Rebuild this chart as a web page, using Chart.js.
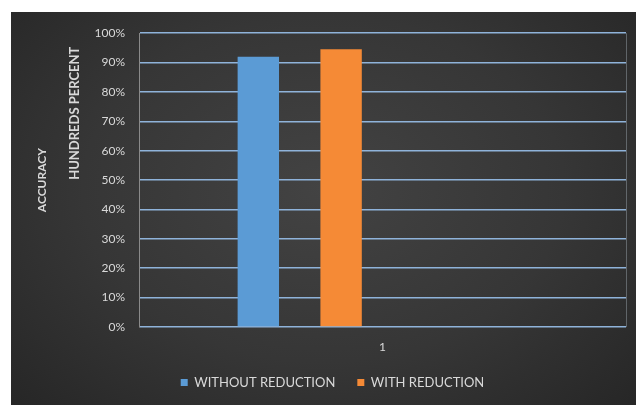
<!DOCTYPE html>
<html>
<head>
<meta charset="utf-8">
<script src="https://cdn.jsdelivr.net/npm/chart.js@4"></script>
<style>
  html, body { margin: 0; padding: 0; background: #fff; }
  #wrap {
    position: absolute; left: 11px; top: 12px; width: 625px; height: 393px;
    background: radial-gradient(ellipse 70% 80% at 50% 45%, #434343 0%, #363636 55%, #262626 100%);
  }
  canvas { display: block; }
</style>
</head>
<body>
<div id="wrap"><canvas id="chart" width="625" height="393"></canvas></div>
<script>
// categories and series values (fraction of 1)
const categories = ['1'];
const seriesNames = ['WITHOUT REDUCTION', 'WITH REDUCTION', '', ''];
const withoutReduction = [0.92];
const withReduction = [0.945];
// two empty series slots that Excel kept in the group
const emptySeriesA = [null];
const emptySeriesB = [null];
const seriesColors = ['#5b9bd5', '#f58a36', '#000', '#000'];

const textColor = '#d9d9d9';
const fontFamily = 'Lato, "Open Sans", sans-serif';

// "HUNDREDS PERCENT" display-unit label next to the value axis
const unitLabel = {
    id: 'unitLabel',
    afterLayout(chart) {
        // legend sits a little right of centre in the original
        chart.legend.left += 14;
        chart.legend.right += 14;
    },
    afterDraw(chart) {
        const ctx = chart.ctx;
        const area = chart.chartArea;
        ctx.save();
        ctx.translate(64, area.top + 80);
        ctx.rotate(-Math.PI / 2);
        ctx.fillStyle = textColor;
        ctx.font = 'bold 13px ' + fontFamily;
        ctx.textAlign = 'center';
        ctx.textBaseline = 'middle';
        ctx.fillText('HUNDREDS PERCENT', 0, 0);
        ctx.restore();
        // faint right border of the plot area
        ctx.save();
        ctx.strokeStyle = 'rgba(160,170,180,0.45)';
        ctx.lineWidth = 1;
        ctx.beginPath();
        ctx.moveTo(area.right + 0.5, area.top);
        ctx.lineTo(area.right + 0.5, area.bottom);
        ctx.stroke();
        ctx.restore();
    }
};

const datasets = [withoutReduction, withReduction, emptySeriesA, emptySeriesB].map((d, i) => ({
    label: seriesNames[i],
    data: d,
    backgroundColor: seriesColors[i],
    borderWidth: 0,
    categoryPercentage: 0.68,
    barPercentage: 0.5
}));

new Chart(document.getElementById('chart'), {
    type: 'bar',
    data: { labels: categories, datasets },
    plugins: [unitLabel],
    options: {
        responsive: false,
        animation: false,
        layout: { padding: { top: 20, right: 10, bottom: 6, left: 0 } },
        plugins: {
            tooltip: { enabled: false },
            legend: {
                position: 'bottom',
                labels: {
                    color: textColor,
                    boxWidth: 7,
                    boxHeight: 7,
                    padding: 22,
                    font: { size: 13, family: fontFamily },
                    filter: item => item.text !== ''
                }
            }
        },
        scales: {
            x: {
                grid: { display: false },
                border: { display: false },
                ticks: { color: textColor, padding: 5, font: { size: 12, family: fontFamily } },
                afterFit: s => { s.height = 27; }
            },
            y: {
                min: 0,
                max: 1,
                afterFit: s => { s.width = 128; },
                ticks: {
                    stepSize: 0.1,
                    color: textColor,
                    padding: 14,
                    font: { size: 12, family: fontFamily },
                    callback: v => Math.round(v * 100) + '%'
                },
                grid: { color: '#8fb3da', lineWidth: 1.6, drawTicks: false },
                border: { display: true, color: '#8a8a8a', width: 1 },
                title: {
                    display: true,
                    text: 'ACCURACY',
                    color: textColor,
                    font: { size: 12, weight: 'bold', family: fontFamily },
                    padding: { top: 24, bottom: 0 }
                }
            }
        }
    }
});
</script>
</body>
</html>
